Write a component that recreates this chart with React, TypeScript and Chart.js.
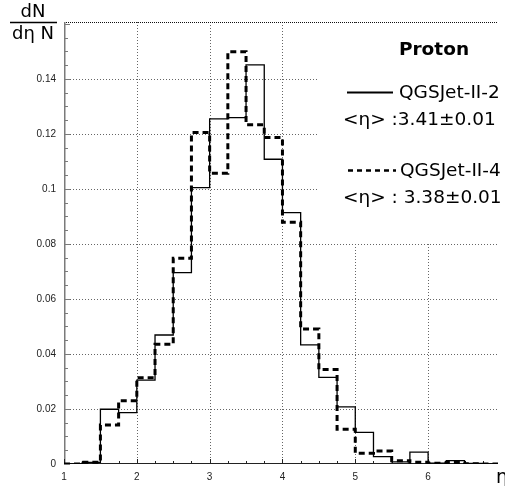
import React, { useEffect, useRef } from "react";
import { Chart, registerables } from "chart.js";

Chart.register(...registerables);

// Bin edges of eta (bin width 0.25)
const binEdges = [
  1.0, 1.25, 1.5, 1.75, 2.0, 2.25, 2.5, 2.75, 3.0, 3.25, 3.5, 3.75, 4.0,
  4.25, 4.5, 4.75, 5.0, 5.25, 5.5, 5.75, 6.0, 6.25, 6.5, 6.75, 7.0,
];

// dN/(dη N) per bin
const qgsjet2 = [
  0.0, 0.0006, 0.0199, 0.0187, 0.0305, 0.0469, 0.0696, 0.1005, 0.1255,
  0.1259, 0.1451, 0.1108, 0.0914, 0.0433, 0.0315, 0.0208, 0.0115, 0.0027,
  0.0008, 0.0043, 0.0003, 0.0012, 0.0002, 0.0,
];
const qgsjet4 = [
  0.0, 0.0006, 0.0142, 0.023, 0.0314, 0.0435, 0.0748, 0.1205, 0.1057,
  0.1499, 0.1233, 0.1187, 0.0879, 0.0491, 0.0344, 0.0126, 0.0039, 0.0047,
  0.0012, 0.0006, 0.0003, 0.0005, 0.0001, 0.0,
];

const xMajorTicks = [1, 2, 3, 4, 5, 6];
const xGridValues = [2, 3, 4, 5, 6];
const yGridValues = [0.02, 0.04, 0.06, 0.08, 0.1, 0.12, 0.14];
const yMajorTicks = [0, 0.02, 0.04, 0.06, 0.08, 0.1, 0.12, 0.14, 0.16];

const seriesNames = ["QGSJet-II-2", "QGSJet-II-4"];
const seriesMeans = ["<η> :3.41±0.01", "<η> : 3.38±0.01"];
const title = "Proton";

function toSteps(vals: number[]) {
  const pts = vals.map((v, i) => ({ x: binEdges[i], y: v }));
  pts.push({ x: binEdges[vals.length], y: vals[vals.length - 1] });
  return pts;
}

const framePlugin = {
  id: "frame",
  beforeDatasetsDraw(chart: any) {
    const { ctx, chartArea: a, scales } = chart;
    const x = scales.x;
    const y = scales.y;
    ctx.save();
    // dotted grid
    ctx.strokeStyle = "#666";
    ctx.lineWidth = 1;
    ctx.setLineDash([1, 2]);
    for (const v of xGridValues) {
      const px = Math.round(x.getPixelForValue(v)) + 0.5;
      ctx.beginPath();
      ctx.moveTo(px, a.top);
      ctx.lineTo(px, a.bottom);
      ctx.stroke();
    }
    for (const v of yGridValues) {
      const py = Math.round(y.getPixelForValue(v)) + 0.5;
      ctx.beginPath();
      ctx.moveTo(a.left, py);
      ctx.lineTo(a.right, py);
      ctx.stroke();
    }
    // legend area (blank)
    ctx.setLineDash([]);
    ctx.fillStyle = "#fff";
    const boxBottom = Math.round(y.getPixelForValue(0.08)) - 1;
    ctx.fillRect(318, a.top + 1, a.right - 318, boxBottom - a.top - 1);
    // top border dotted
    ctx.strokeStyle = "#111";
    ctx.setLineDash([1, 1]);
    ctx.beginPath();
    ctx.moveTo(a.left, Math.round(a.top) + 0.5);
    ctx.lineTo(a.right, Math.round(a.top) + 0.5);
    ctx.stroke();
    ctx.setLineDash([]);
    // left axis
    ctx.strokeStyle = "#7a7a7a";
    ctx.lineWidth = 1.5;
    ctx.beginPath();
    ctx.moveTo(a.left + 0.75, a.top);
    ctx.lineTo(a.left + 0.75, a.bottom);
    ctx.stroke();
    ctx.lineWidth = 1;
    for (let i = 0; i <= 32; i++) {
      const v = i * 0.005;
      if (v > y.max) break;
      const py = Math.round(y.getPixelForValue(v)) + 0.5;
      const len = i % 4 === 0 ? 6 : 4;
      ctx.beginPath();
      ctx.moveTo(a.left, py);
      ctx.lineTo(a.left + len, py);
      ctx.stroke();
    }
    // bottom axis
    ctx.strokeStyle = "#222";
    ctx.beginPath();
    ctx.moveTo(a.left, Math.round(a.bottom) - 0.5);
    ctx.lineTo(a.right, Math.round(a.bottom) - 0.5);
    ctx.stroke();
    for (let i = 0; i <= 24; i++) {
      const v = 1 + i * 0.25;
      if (v > x.max) break;
      const px = Math.round(x.getPixelForValue(v)) + 0.5;
      const len = i % 4 === 0 ? 5 : 3;
      ctx.beginPath();
      ctx.moveTo(px, a.bottom);
      ctx.lineTo(px, a.bottom - len);
      ctx.stroke();
    }
    ctx.restore();
  },
  afterDraw(chart: any) {
    const { ctx } = chart;
    ctx.save();
    ctx.fillStyle = "#000";
    ctx.strokeStyle = "#000";
    ctx.textBaseline = "middle";
    // title
    ctx.font = 'bold 18.5px "DejaVu Sans"';
    ctx.textAlign = "center";
    ctx.fillText(title, 434, 50);
    // legend
    ctx.font = '18.5px "DejaVu Sans"';
    ctx.textAlign = "left";
    ctx.lineWidth = 2;
    ctx.beginPath();
    ctx.moveTo(347, 92.5);
    ctx.lineTo(393, 92.5);
    ctx.stroke();
    ctx.fillText(seriesNames[0], 399, 93);
    ctx.fillText(seriesMeans[0], 343, 120);
    ctx.lineWidth = 2.5;
    ctx.setLineDash([5, 4]);
    ctx.beginPath();
    ctx.moveTo(348, 170.5);
    ctx.lineTo(396, 170.5);
    ctx.stroke();
    ctx.setLineDash([]);
    ctx.fillText(seriesNames[1], 400, 171);
    ctx.fillText(seriesMeans[1], 343, 198);
    // y title (fraction)
    ctx.font = '18px "DejaVu Sans"';
    ctx.textAlign = "center";
    ctx.fillText("dN", 33, 12);
    ctx.lineWidth = 1.3;
    ctx.beginPath();
    ctx.moveTo(10, 22.5);
    ctx.lineTo(57, 22.5);
    ctx.stroke();
    ctx.fillText("dη N", 33, 34);
    // x title
    ctx.font = '19px "DejaVu Sans"';
    ctx.textAlign = "left";
    ctx.fillText("η", 496, 478);
    ctx.restore();
  },
};

export default function App() {
  const ref = useRef<HTMLCanvasElement | null>(null);
  useEffect(() => {
    if (!ref.current) return;
    const chart = new Chart(ref.current, {
      type: "line",
      data: {
        datasets: [
          {
            label: seriesNames[0],
            data: toSteps(qgsjet2),
            stepped: "before",
            borderColor: "#000",
            borderWidth: 1.3,
            pointRadius: 0,
            fill: false,
            order: 1,
          },
          {
            label: seriesNames[1],
            data: toSteps(qgsjet4),
            stepped: "before",
            borderColor: "#000",
            borderWidth: 3,
            borderDash: [6, 4],
            pointRadius: 0,
            fill: false,
            order: 0,
          },
        ],
      },
      options: {
        animation: false,
        responsive: false,
        maintainAspectRatio: false,
        layout: { padding: { top: 22, right: 0, left: 0, bottom: 0 } },
        plugins: { legend: { display: false }, tooltip: { enabled: false } },
        scales: {
          x: {
            type: "linear",
            min: 1,
            max: 6.96,
            grid: { display: false, drawTicks: false },
            border: { display: false },
            ticks: {
              stepSize: 1,
              padding: 7,
              autoSkip: false,
              maxRotation: 0,
              color: "#222",
              font: { family: "Liberation Sans", size: 10 },
              callback: (v: any) =>
                xMajorTicks.includes(Number(v)) ? String(v) : "",
            },
            afterFit: (s: any) => {
              s.height = 22;
            },
          },
          y: {
            type: "linear",
            min: 0,
            max: 0.1607,
            grid: { display: false, drawTicks: false },
            border: { display: false },
            ticks: {
              stepSize: 0.02,
              padding: 8,
              color: "#222",
              font: { family: "Liberation Sans", size: 10 },
              callback: (v: any) => {
                const n = Number(v);
                if (n > 0.145) return "";
                if (!yMajorTicks.some((t) => Math.abs(t - n) < 1e-6)) return "";
                return String(Math.round(n * 100) / 100);
              },
            },
            afterFit: (s: any) => {
              s.width = 64;
            },
          },
        },
      },
      plugins: [framePlugin],
    });
    return () => chart.destroy();
  }, []);
  return (
    <div style={{ position: "absolute", left: 0, top: 0, width: 505, height: 486 }}>
      <canvas ref={ref} width={505} height={486} style={{ display: "block" }} />
    </div>
  );
}
